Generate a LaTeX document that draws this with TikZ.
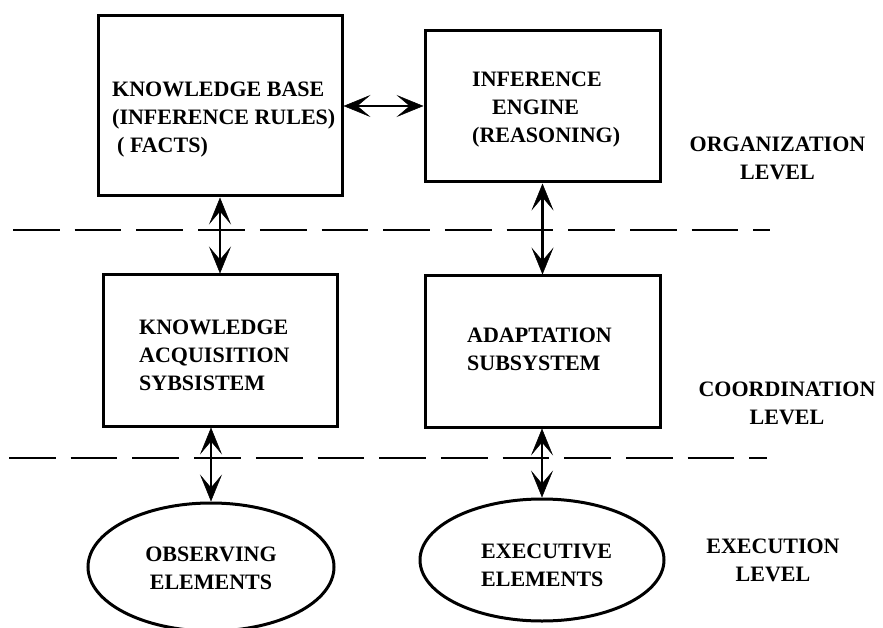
\documentclass[tikz,border=0pt]{standalone}
\usepackage{fontspec}
\setmainfont{Liberation Serif}
\usetikzlibrary{shapes.geometric,arrows.meta}
\tikzset{
  box/.style={draw,line width=3pt,inner sep=0pt,rectangle},
  oval/.style={draw,line width=3pt,inner sep=0pt,ellipse},
  txt/.style={inner sep=0pt,font=\fontsize{22}{28}\selectfont\bfseries},
  lbl/.style={txt,align=left,anchor=base west},
  clbl/.style={txt,align=center,anchor=base},
  bigtip/.tip={Stealth[length=27pt,width=22pt,inset=13pt,line width=0.5pt]},
  link/.style={line width=2.5pt,bigtip-bigtip},
  sep/.style={line width=1.2pt,dash pattern=on 46.7pt off 15pt}
}
\begin{document}
\begin{tikzpicture}[x=1pt,y=-1pt]
\useasboundingbox (0,0) rectangle (883,628);
\clip (0,0) rectangle (883,628);

% boxes and ellipses
\node[box,minimum width=244pt,minimum height=180pt] (kb) at (220,106) {};
\node[box,minimum width=235pt,minimum height=151pt] (ie) at (542.5,106.5) {};
\node[box,minimum width=234pt,minimum height=151pt] (kas) at (220,350.5) {};
\node[box,minimum width=235pt,minimum height=151pt] (as) at (542.5,351.5) {};
\node[oval,minimum width=246pt,minimum height=128pt] (oe) at (211,567) {};
\node[oval,minimum width=244pt,minimum height=122pt] (ee) at (542,560) {};

% texts (anchored at the baseline of the last line)
\node[lbl] (kbt) at (112,153) {KNOWLEDGE BASE\\(INFERENCE RULES)\\\hspace*{5pt}( FACTS)};
\node[lbl] (iet) at (472,143) {INFERENCE\\\hspace*{20pt}ENGINE\\(REASONING)};
\node[lbl] (kast) at (139,390) {KNOWLEDGE\\ACQUISITION\\SYBSISTEM};
\node[lbl] (ast) at (467,370) {ADAPTATION\\SUBSYSTEM};
\node[clbl] (oet) at (211,589) {OBSERVING\\ELEMENTS};
\node[lbl] (eet) at (481,586) {EXECUTIVE\\ELEMENTS};
\node[clbl] (org) at (777.5,180) {ORGANIZATION\\LEVEL};
\node[clbl] (crd) at (787,424) {COORDINATION\\LEVEL};
\node[clbl] (exe) at (773,581) {EXECUTION\\LEVEL};

% level separators
\coordinate (d1a) at (13,230);
\coordinate (d1b) at (770,230);
\coordinate (d2a) at (9,458);
\coordinate (d2b) at (767,458);
\draw[sep] (d1a) -- (d1b);
\draw[sep] (d2a) -- (d2b);

% connectors
\draw[link] (kb.east) -- (kb.east -| ie.west);
\draw[link] (kb.south) -- (kas.north);
\draw[link] (ie.south) -- (as.north);
\draw[link] (oe.north |- kas.south) -- (oe.north);
\draw[link] (ee.north |- as.south) -- (ee.north);
\end{tikzpicture}
\end{document}
